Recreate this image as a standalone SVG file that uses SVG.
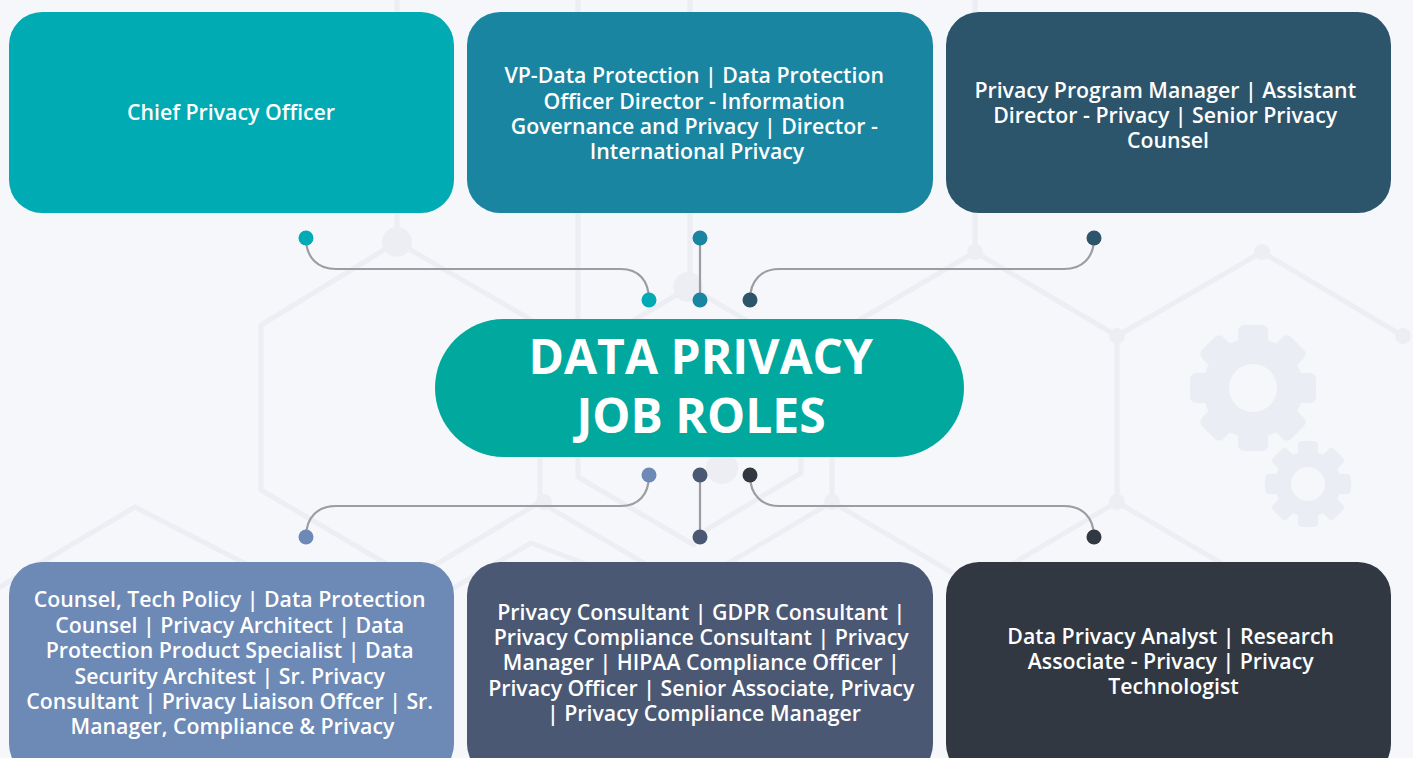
<svg xmlns="http://www.w3.org/2000/svg" width="1413" height="758" viewBox="0 0 1413 758">
<defs>
<style>
.bg{fill:#f6f7fb}
.deco{stroke:#eceef4;stroke-width:5;fill:none;stroke-linecap:round;stroke-linejoin:round}
.dnode{fill:#eceef4}
.gear{fill:#eaedf3}
.hole{fill:#f6f7fb}
.conn{stroke:#9c9ca2;stroke-width:2.2;fill:none}
.lbl{font-family:"Open Sans","Liberation Sans",sans-serif;font-size:21.3px;font-weight:600;fill:#ffffff;text-anchor:middle}
.title{font-family:"Open Sans","Liberation Sans",sans-serif;font-size:48px;font-weight:700;fill:#ffffff;text-anchor:middle}
</style>
<g id="tooth-big"><rect x="-15" y="-63" width="30" height="30" rx="6"/></g>
<g id="tooth-small"><rect x="-10" y="-43" width="20" height="20" rx="4"/></g>
</defs>
<rect class="bg" x="0" y="0" width="1413" height="758"/>

<g id="background">
<path class="deco" d="M397,0 L397,242 L261,325 L261,490 L390,566"/>
<path class="deco" d="M397,242 L540,325 L540,502 L683,586"/>
<path class="deco" d="M540,502 L400,586"/>
<path class="deco" d="M578,0 L578,477 L694,545"/>
<path class="deco" d="M690,0 L690,287 L600,340"/>
<path class="deco" d="M690,287 L780,340"/>
<path class="deco" d="M135,507 L0,587"/>
<path class="deco" d="M135,507 L252,567"/>
<path class="deco" d="M450,590 L531,543 L653,590"/>
<path class="deco" d="M975,0 L975,252 L832,336 L832,502 L975,586 L1117,502 L1117,336 L975,252"/>
<path class="deco" d="M1117,336 L1262,252 L1403,336"/>
<path class="deco" d="M1117,502 L1260,586"/>
<path class="deco" d="M832,502 L700,580"/>
<path class="deco" d="M801,440 L801,473 L706,530"/>
<circle class="dnode" cx="397" cy="242" r="15"/>
<circle class="dnode" cx="688" cy="287" r="15"/>
<circle class="dnode" cx="544" cy="502" r="8"/>
<circle class="dnode" cx="722" cy="468" r="16"/>
<circle class="dnode" cx="975" cy="252" r="8"/>
<circle class="dnode" cx="1117" cy="336" r="8"/>
<circle class="dnode" cx="1262" cy="252" r="8"/>
<circle class="dnode" cx="1403" cy="336" r="8"/>
<circle class="dnode" cx="832" cy="502" r="8"/>
<circle class="dnode" cx="1117" cy="502" r="8"/>
<g class="gear" transform="translate(1253,388)">
<circle r="50"/>
<use href="#tooth-big"/>
<use href="#tooth-big" transform="rotate(45)"/>
<use href="#tooth-big" transform="rotate(90)"/>
<use href="#tooth-big" transform="rotate(135)"/>
<use href="#tooth-big" transform="rotate(180)"/>
<use href="#tooth-big" transform="rotate(225)"/>
<use href="#tooth-big" transform="rotate(270)"/>
<use href="#tooth-big" transform="rotate(315)"/>
<circle class="hole" r="24"/>
</g>
<g class="gear" transform="translate(1308,484)">
<circle r="33"/>
<use href="#tooth-small"/>
<use href="#tooth-small" transform="rotate(45)"/>
<use href="#tooth-small" transform="rotate(90)"/>
<use href="#tooth-small" transform="rotate(135)"/>
<use href="#tooth-small" transform="rotate(180)"/>
<use href="#tooth-small" transform="rotate(225)"/>
<use href="#tooth-small" transform="rotate(270)"/>
<use href="#tooth-small" transform="rotate(315)"/>
<circle class="hole" r="17"/>
</g>
</g>

<g id="connectors">
<path class="conn" d="M306,238 C306,258 318,269 336,269 L621,269 C638,269 649,280 649,300"/>
<path class="conn" d="M700,238 L700,300"/>
<path class="conn" d="M1094,238 C1094,258 1082,269 1064,269 L779,269 C762,269 750,280 750,300"/>
<path class="conn" d="M649,475 C649,495 638,506 621,506 L336,506 C318,506 306,517 306,537"/>
<path class="conn" d="M700,475 L700,537"/>
<path class="conn" d="M750,475 C750,495 762,506 779,506 L1064,506 C1082,506 1094,517 1094,537"/>
<circle cx="306" cy="238" r="7.5" fill="#00abb3"/>
<circle cx="700" cy="238" r="7.5" fill="#1a85a1"/>
<circle cx="1094" cy="238" r="7.5" fill="#2c546b"/>
<circle cx="649" cy="300" r="7.5" fill="#00abb3"/>
<circle cx="700" cy="300" r="7.5" fill="#1a85a1"/>
<circle cx="750" cy="300" r="7.5" fill="#2c546b"/>
<circle cx="649" cy="475" r="7.5" fill="#6d89b5"/>
<circle cx="700" cy="475" r="7.5" fill="#4a5874"/>
<circle cx="750" cy="475" r="7.5" fill="#313842"/>
<circle cx="306" cy="537" r="7.5" fill="#6d89b5"/>
<circle cx="700" cy="537" r="7.5" fill="#4a5874"/>
<circle cx="1094" cy="537" r="7.5" fill="#313842"/>
</g>

<g id="node-cpo">
<rect x="9" y="12" width="445" height="201" rx="33" fill="#00abb3"/>
<text class="lbl" x="231" y="120">Chief Privacy Officer</text>
</g>

<g id="node-vp">
<rect x="467" y="12" width="466" height="201" rx="33" fill="#1a85a1"/>
<text class="lbl">
<tspan x="697" y="83">VP-Data Protection | Data Protection</tspan>
<tspan x="697" y="109">Officer Director - Information</tspan>
<tspan x="697" y="134">Governance and Privacy | Director -</tspan>
<tspan x="697" y="159">International Privacy</tspan>
</text>
</g>

<g id="node-ppm">
<rect x="946" y="12" width="445" height="201" rx="33" fill="#2c546b"/>
<text class="lbl">
<tspan x="1168" y="98">Privacy Program Manager | Assistant</tspan>
<tspan x="1168" y="123">Director - Privacy | Senior Privacy</tspan>
<tspan x="1168" y="148">Counsel</tspan>
</text>
</g>

<g id="node-center">
<rect x="435" y="319" width="529" height="138" rx="69" fill="#00a89d"/>
<text class="title">
<tspan x="707" y="374">DATA PRIVACY</tspan>
<tspan x="701" y="433">JOB ROLES</tspan>
</text>
</g>

<g id="node-counsel">
<rect x="9" y="562" width="445" height="215" rx="33" fill="#6d89b5"/>
<text class="lbl">
<tspan x="232.5" y="607">Counsel, Tech Policy | Data Protection</tspan>
<tspan x="232.5" y="633">Counsel | Privacy Architect | Data</tspan>
<tspan x="232.5" y="658">Protection Product Specialist | Data</tspan>
<tspan x="232.5" y="684">Security Architest | Sr. Privacy</tspan>
<tspan x="232.5" y="709">Consultant | Privacy Liaison Offcer | Sr.</tspan>
<tspan x="232.5" y="734">Manager, Compliance &amp; Privacy</tspan>
</text>
</g>

<g id="node-consultant">
<rect x="467" y="562" width="466" height="215" rx="33" fill="#4a5874"/>
<text class="lbl">
<tspan x="704" y="620">Privacy Consultant | GDPR Consultant |</tspan>
<tspan x="704" y="645">Privacy Compliance Consultant | Privacy</tspan>
<tspan x="704" y="670">Manager | HIPAA Compliance Officer |</tspan>
<tspan x="704" y="696">Privacy Officer | Senior Associate, Privacy</tspan>
<tspan x="704" y="721">| Privacy Compliance Manager</tspan>
</text>
</g>

<g id="node-analyst">
<rect x="946" y="562" width="445" height="215" rx="33" fill="#313842"/>
<text class="lbl">
<tspan x="1173.5" y="644">Data Privacy Analyst | Research</tspan>
<tspan x="1173.5" y="669">Associate - Privacy | Privacy</tspan>
<tspan x="1173.5" y="694">Technologist</tspan>
</text>
</g>
</svg>
